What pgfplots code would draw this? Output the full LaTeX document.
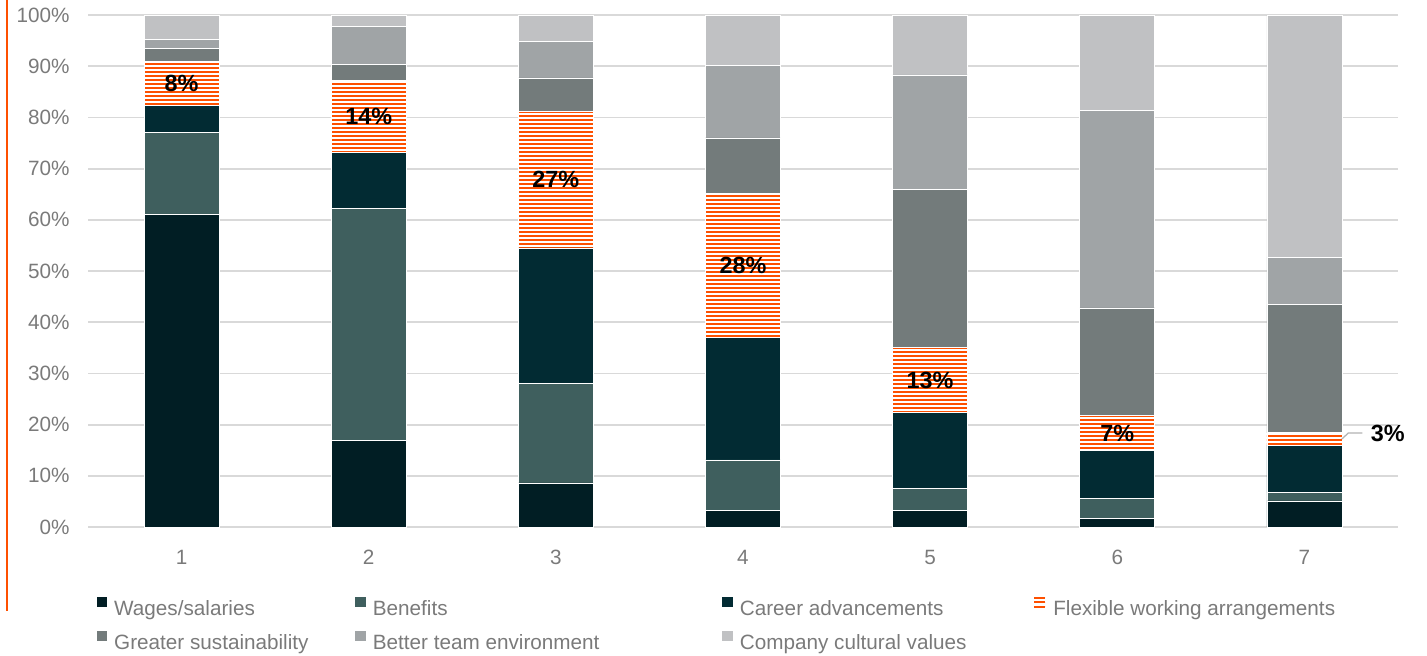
\documentclass[border=0pt]{standalone}
\usepackage{fontspec}
\setmainfont{Liberation Sans}
\usepackage{pgfplots}
\usepackage{pgfplotstable}
\pgfplotsset{compat=1.18}
\usetikzlibrary{patterns}

\definecolor{cWages}{HTML}{011E24}
\definecolor{cBenefits}{HTML}{3F5F5E}
\definecolor{cCareer}{HTML}{022B33}
\definecolor{cOrange}{HTML}{FE5000}
\definecolor{cGreen}{HTML}{737B7B}
\definecolor{cTeam}{HTML}{A0A4A6}
\definecolor{cCulture}{HTML}{C0C1C3}
\definecolor{cGrid}{HTML}{D9D9D9}
\definecolor{tgray}{HTML}{7A7A7A}

% wide tile so that no vertical seams show inside a bar
\pgfdeclarepatternformonly{hstripes}{\pgfpoint{0pt}{0pt}}{\pgfpoint{800pt}{2.22pt}}{\pgfpoint{800pt}{2.22pt}}{%
  \pgfpathrectangle{\pgfpoint{0pt}{0pt}}{\pgfpoint{800pt}{1.11pt}}\pgfusepath{fill}}

\pgfplotstableread{
x wages benefits career flexible greener team culture
1 61.1 15.9  5.4  8.6  2.5  1.7  4.8
2 16.9 45.4 10.8 14.1  3.2  7.3  2.3
3  8.6 19.5 26.4 26.6  6.6  7.2  5.1
4  3.3  9.8 24.0 28.1 10.8 14.2  9.8
5  3.3  4.3 14.7 12.7 31.0 22.3 11.7
6  1.6  4.0  9.3  6.9 21.0 38.5 18.7
7  5.1  1.7  9.2  2.4 25.0  9.3 47.3
}\data

\tikzset{lbl/.style={font=\bfseries\fontsize{13}{15}\selectfont, text=black, inner sep=0pt}}

\begin{document}
\fontsize{11.5}{13.8}\selectfont
\begin{tikzpicture}
\useasboundingbox (0,0) rectangle (792.8pt,-364.4pt);
\begin{axis}[
    at={(48.89pt,-292.78pt)}, anchor=south west,
    scale only axis, width=727.78pt, height=284.44pt,
    ybar stacked, bar width=41.67pt,
    xmin=0.5, xmax=7.5, ymin=0, ymax=100,
    xtick={1,...,7}, xticklabels={1,2,3,4,5,6,7},
    ytick={0,10,...,100},
    yticklabels={0\%,10\%,20\%,30\%,40\%,50\%,60\%,70\%,80\%,90\%,100\%},
    ymajorgrids, major grid style={draw=cGrid, line width=1pt},
    axis line style={draw=none}, tick style={draw=none}, major tick length=0pt,
    tick label style={font=\fontsize{11.5}{13.8}\selectfont, text=tgray},
    yticklabel style={anchor=east, inner sep=0pt, xshift=-10pt},
    xticklabel style={anchor=north, inner sep=0pt, yshift=-12.5pt},
    clip=false,
    legend image code/.code={\fill[#1, draw=none] (0pt,1.45pt) rectangle (5.9pt,7.4pt);},
    legend columns=4,
    legend cell align=left,
    legend style={at={(axis description cs:0.00664,-0.136)}, anchor=north west,
        draw=none, fill=none, inner sep=0pt, outer sep=0pt, text=tgray,
        font=\fontsize{11.5}{13.8}\selectfont,
        row sep=6pt,
        /tikz/every odd column/.style={column sep=3.8pt},
        /tikz/column 2/.style={column sep=26pt},
        /tikz/column 4/.style={column sep=68.3pt},
        /tikz/column 6/.style={column sep=37.2pt},
        nodes={inner sep=0pt, text height=8.5pt, text depth=2.4pt}},
]
\addplot[fill=cWages, draw=white, line width=0.4pt] table[x=x, y=wages]{\data};
\addlegendentry{Wages/salaries}
\addplot[fill=cBenefits, draw=white, line width=0.4pt] table[x=x, y=benefits]{\data};
\addlegendentry{Benefits}
\addplot[fill=cCareer, draw=white, line width=0.4pt] table[x=x, y=career]{\data};
\addlegendentry{Career advancements}
\addplot[fill=white, draw=white, line width=0.4pt,
    postaction={pattern=hstripes, pattern color=cOrange},
    legend image code/.code={\draw[cOrange, line width=1.1pt] (0pt,1.9pt) -- (6.1pt,1.9pt) (0pt,4.3pt) -- (6.1pt,4.3pt) (0pt,6.7pt) -- (6.1pt,6.7pt);}]
    table[x=x, y=flexible]{\data};
\addlegendentry{Flexible working arrangements}
\addplot[fill=cGreen, draw=white, line width=0.4pt] table[x=x, y=greener]{\data};
\addlegendentry{Greater sustainability}
\addplot[fill=cTeam, draw=white, line width=0.4pt] table[x=x, y=team]{\data};
\addlegendentry{Better team environment}
\addplot[fill=cCulture, draw=white, line width=0.4pt] table[x=x, y=culture]{\data};
\addlegendentry{Company cultural values}

% anchors for the flexible-working labels (drawn after the bars)
\coordinate (l1) at (axis cs:1,86.7);
\coordinate (l2) at (axis cs:2,80.15);
\coordinate (l3) at (axis cs:3,67.8);
\coordinate (l4) at (axis cs:4,51.15);
\coordinate (l5) at (axis cs:5,28.65);
\coordinate (l6) at (axis cs:6,18.35);
\coordinate (k1) at (axis cs:7.2004,17.2);
\coordinate (k2) at (axis cs:7.235,18.36);
\coordinate (k3) at (axis cs:7.31,18.36);
\coordinate (l7) at (axis cs:7.353,18.2);
\end{axis}
\node[lbl] at (l1) {8\%};
\node[lbl] at (l2) {14\%};
\node[lbl] at (l3) {27\%};
\node[lbl] at (l4) {28\%};
\node[lbl] at (l5) {13\%};
\node[lbl] at (l6) {7\%};
\draw[gray!60, line width=0.7pt] (k1) -- (k2) -- (k3);
\node[lbl, anchor=west] at (l7) {3\%};
\draw[cOrange, line width=1.1pt] (3.9pt,0pt) -- (3.9pt,-339.4pt);
\end{tikzpicture}
\end{document}
